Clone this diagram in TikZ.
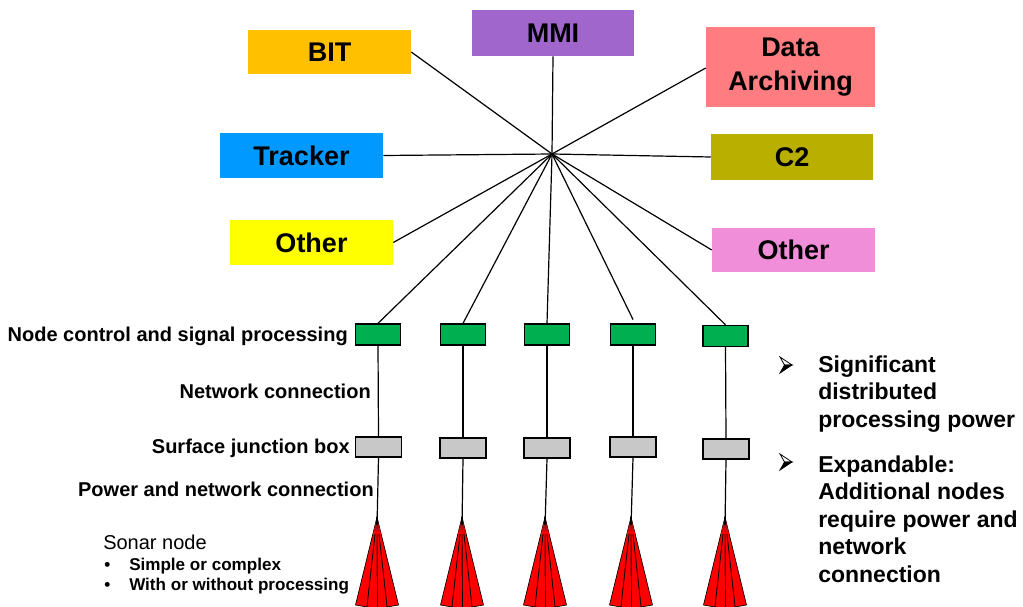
\documentclass[tikz,border=0pt]{standalone}
\usepackage{fontspec}
\setmainfont{Liberation Sans}
\definecolor{cBIT}{HTML}{FFC000}
\definecolor{cMMI}{HTML}{A066CC}
\definecolor{cDA}{HTML}{FF7C80}
\definecolor{cTR}{HTML}{0099FF}
\definecolor{cCtwo}{HTML}{B8AF00}
\definecolor{cOL}{HTML}{FFFF00}
\definecolor{cOR}{HTML}{F08EDA}
\definecolor{cGR}{HTML}{00B050}
\definecolor{cGY}{HTML}{C8C8C8}
\definecolor{cRD}{HTML}{FF0000}
\tikzset{
  sz/.style 2 args={minimum width=#1*0.75pt, minimum height=#2*0.75pt},
  topbox/.style={inner sep=0pt, align=center, font=\bfseries\fontsize{20.25}{25.5}\selectfont},
  procbox/.style={draw=black, line width=1pt, fill=cGR, inner sep=0pt, sz={45}{21}},
  jbox/.style={draw=black, line width=1pt, fill=cGY, inner sep=0pt, sz={46}{20}},
  link/.style={draw=black, line width=0.9pt},
  lbl/.style={anchor=base east, inner sep=0pt, font=\bfseries\fontsize{15}{18}\selectfont},
  smb/.style={anchor=base west, inner sep=0pt, font=\bfseries\fontsize{12.8}{15}\selectfont},
  rtext/.style={anchor=base west, inner sep=0pt, align=left, font=\bfseries\fontsize{17.25}{20.6}\selectfont},
  blade/.style={fill=cRD, draw=black, line width=0.5pt, line join=round}
}
\begin{document}
\begin{tikzpicture}[x=0.75pt,y=-0.75pt]
\useasboundingbox (0,0) rectangle (1023,606);
\fill[white] (0,0) rectangle (1023,606);

% top boxes
\node[topbox, fill=cBIT, sz={163}{44}] (bit) at (329.5,52) {BIT};
\node[topbox, fill=cMMI, sz={162}{46}] (mmi) at (553,33) {MMI};
\node[topbox, fill=cDA, sz={169}{80}] (da) at (790.5,67) {Data\\Archiving};
\node[topbox, fill=cTR, sz={163}{45}] (tr) at (301.5,155.5) {Tracker};
\node[topbox, fill=cCtwo, sz={162}{46}] (ctwo) at (792,157) {C2};
\node[topbox, fill=cOL, sz={163}{45}] (ol) at (311.5,242.5) {Other};
\node[topbox, fill=cOR, sz={163}{44}] (or) at (793.5,250) {Other};

\coordinate (hub) at (552,154);

% processing boxes
\node[procbox] (g1) at (378,334.5) {};
\node[procbox] (g2) at (463,334.5) {};
\node[procbox] (g3) at (547,334.5) {};
\node[procbox] (g4) at (633,334.5) {};
\node[procbox] (g5) at (725.5,336) {};
\coordinate (g4end) at (633,319.5);

% junction boxes
\node[jbox] (s1) at (378.5,447) {};
\node[jbox] (s2) at (463,448) {};
\node[jbox] (s3) at (547,448) {};
\node[jbox] (s4) at (633,447) {};
\node[jbox] (s5) at (726,449) {};

% sonar apexes
\coordinate (a1) at (377,517);
\coordinate (a2) at (462,517);
\coordinate (a3) at (545,517);
\coordinate (a4) at (631,517);
\coordinate (a5) at (725,517);

% star connectors
\draw[link] (hub) -- (bit.east);
\draw[link] (hub) -- (mmi.south);
\draw[link] (hub) -- ([yshift=-0.75pt]da.west);
\draw[link] (hub) -- (tr.east);
\draw[link] (hub) -- (ctwo.west);
\draw[link] (hub) -- (ol.east);
\draw[link] (hub) -- (or.west);
\draw[link] (hub) -- (g1.north);
\draw[link] (hub) -- (g2.north);
\draw[link] (hub) -- (g3.north);
\draw[link] (hub) -- (g4end);
\draw[link] (hub) -- (g5.north);

% vertical connectors
\foreach \i in {1,...,5} {
  \draw[link] (g\i.south) -- (s\i.north);
  \draw[link] (s\i.south) -- ([yshift=-10*0.75pt]a\i);
}

% sonar nodes
\foreach \i in {1,...,5} {
  \begin{scope}[shift={(a\i)}]
    \path[blade] (0,0) -- (-21.5,88) -- (-10,90) -- cycle;
    \path[blade] (0,0) -- (21.5,88) -- (10,90) -- cycle;
    \path[blade] (0,0) -- (-10,90) -- (0.5,91) -- cycle;
    \path[blade] (0,0) -- (10,90) -- (0.5,91) -- cycle;
    \begin{scope}
      \clip (0,0) -- (-21.5,88) -- (-10,90) -- (0.5,91) -- (10,90) -- (21.5,88) -- cycle;
      \shade[top color=black!85, bottom color=cRD] (-8,-1) rectangle (8,16);
    \end{scope}
    \draw[line width=0.9pt] (0,0) -- (0,8);
  \end{scope}
}

% left labels
\node[lbl] (l1) at (348,341) {Node control and signal processing};
\node[lbl] (l2) at (371,398) {Network connection};
\node[lbl] (l3) at (350,453) {Surface junction box};
\node[lbl] (l4) at (374,496) {Power and network connection};
\node[anchor=base west, inner sep=0pt, font=\fontsize{15}{18}\selectfont] (l5) at (103,549.5) {Sonar node};
\node[smb] (b1) at (104,570.7) {•};
\node[smb] (t1) at (129,570.7) {Simple or complex};
\node[smb] (b2) at (104,590.7) {•};
\node[smb] (t2) at (129,590.7) {With or without processing};

% right text (base anchor = baseline of last line)
\node[rtext] (rt1) at (818,427) {Significant\\distributed\\processing power};
\node[rtext] (rt2) at (818,582) {Expandable:\\Additional nodes\\require power and\\network\\connection};

% arrowhead bullets
\foreach \y in {357,454} {
  \begin{scope}[shift={(780,\y)}]
    \filldraw[fill=white, draw=black, line width=0.6pt, line join=miter] (0,0) -- (12,8) -- (4.5,8) -- cycle;
    \filldraw[fill=black, draw=black, line width=0.6pt, line join=miter] (4.5,8) -- (12,8) -- (0,16) -- cycle;
  \end{scope}
}
\end{tikzpicture}
\end{document}
